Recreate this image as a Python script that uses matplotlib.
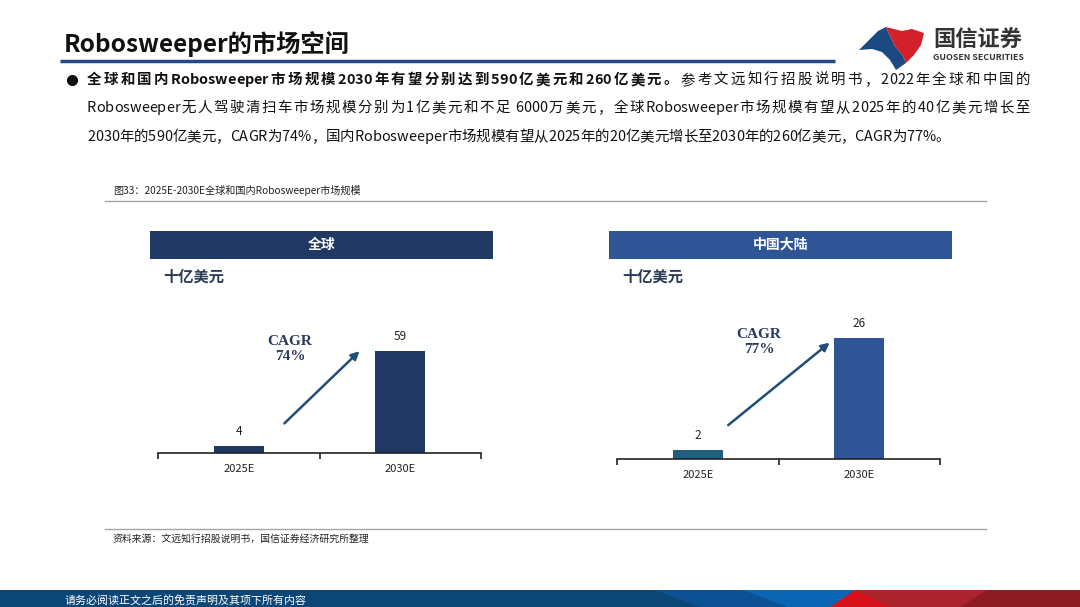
import matplotlib.pyplot as plt
from matplotlib.patches import Rectangle, Polygon

plt.rcParams['font.family'] = ['Noto Sans CJK SC', 'DejaVu Sans']

# data
years = ['2025E', '2030E']
global_vals = [4, 59]
china_vals = [2, 26]
global_cagr = '74%'
china_cagr = '77%'

title = 'Robosweeper的市场空间'
bullet_bold = '全球和国内Robosweeper市场规模2030年有望分别达到590亿美元和260亿美元。'
bullet_rest = '参考文远知行招股说明书，2022年全球和中国的'
line2 = 'Robosweeper无人驾驶清扫车市场规模分别为1亿美元和不足 6000万美元，全球Robosweeper市场规模有望从2025年的40亿美元增长至'
line3 = '2030年的590亿美元，CAGR为74%，国内Robosweeper市场规模有望从2025年的20亿美元增长至2030年的260亿美元，CAGR为77%。'
caption = '图33：2025E-2030E全球和国内Robosweeper市场规模'
source = '资料来源：文远知行招股说明书，国信证券经济研究所整理'
footer = '请务必阅读正文之后的免责声明及其项下所有内容'

W, H = 1080, 607
fig = plt.figure(figsize=(W / 100, H / 100), dpi=100)
bg = fig.add_axes([0, 0, 1, 1])
bg.set_xlim(0, W)
bg.set_ylim(H, 0)
bg.axis('off')
fig.canvas.draw()
r = fig.canvas.get_renderer()


def justified(pieces, x0, x1, y, size):
    # spread the line between x0 and x1, extra room only next to CJK characters
    chars = []
    for txt, wt in pieces:
        for c in txt:
            t = bg.text(0, y, c, fontsize=size, fontweight=wt, va='center', ha='left', color='#111111')
            chars.append((c, t, t.get_window_extent(renderer=r).width))
    total = sum(w for _, _, w in chars)
    slots = [not (chars[i][0].isascii() and chars[i + 1][0].isascii()) for i in range(len(chars) - 1)]
    gap = (x1 - x0 - total) / max(sum(slots), 1)
    x = x0
    for i, (c, t, w) in enumerate(chars):
        t.set_x(x)
        x += w + (gap if i < len(slots) and slots[i] else 0)


# header
bg.text(64, 44, title, fontsize=17.5, fontweight='bold', va='center', ha='left', color='#111111')
bg.plot([60, 835], [60.5, 60.5], color='#244a84', lw=2.5, solid_capstyle='butt')

# logo
bg.add_patch(Polygon([(859, 50), (878, 31), (886, 27), (890, 36), (895, 46), (903, 56),
                      (906, 63), (896, 70), (890, 60), (882, 52), (872, 49)],
                     closed=True, color='#1b4a82', lw=0))
bg.add_patch(Polygon([(886, 27), (902, 31), (912, 29), (924, 33), (921, 45), (914, 55),
                      (906, 63), (903, 56), (895, 46), (890, 36)],
                     closed=True, color='#d3202b', lw=0))
bg.text(933, 40, '国信证券', fontsize=16, fontweight='bold', va='center', ha='left', color='#333333')
bg.text(933, 58, 'GUOSEN SECURITIES', fontsize=6.4, fontweight='bold', va='center', ha='left', color='#333333')

# bullet paragraph
bg.plot(72, 80, 'o', color='#111111', ms=7)
justified([(bullet_bold, 'bold'), (bullet_rest, 'normal')], 87, 1030, 80, 10.4)
justified([(line2, 'normal')], 87, 1030, 108, 10.4)
justified([(line3, 'normal')], 87, 950, 137, 10.4)

# caption and rules
bg.text(113, 190, caption, fontsize=7.3, va='center', ha='left', color='#222222')
bg.plot([105, 986], [200.5, 200.5], color='#a6a6a6', lw=1)
bg.plot([105, 986], [528.5, 528.5], color='#a6a6a6', lw=1)
bg.text(113, 539, source, fontsize=7.1, va='center', ha='left', color='#222222')

# footer band
bg.add_patch(Rectangle((0, 590), W, 17, color='#0c4677', lw=0))
bg.add_patch(Polygon([(655, 590), (700, 607), (1080, 607), (1080, 590)], color='#0b5194', lw=0))
bg.add_patch(Polygon([(743, 590), (788, 607), (1080, 607), (1080, 590)], color='#0a66b5', lw=0))
bg.add_patch(Polygon([(855, 590), (830, 607), (1080, 607), (1080, 590)], color='#d7101a', lw=0))
bg.add_patch(Polygon([(855, 590), (890, 607), (1080, 607), (1080, 590)], color='#ab232d', lw=0))
bg.add_patch(Polygon([(987, 590), (960, 607), (1080, 607), (1080, 590)], color='#8c1c22', lw=0))
bg.text(65, 600, footer, fontsize=7.9, va='center', ha='left', color='white')


def panel(x0, x1, base, top, unit, vals, colors, name, head_color, cagr, arrow, cagr_xy):
    # header box
    bg.add_patch(Rectangle((x0 - 8, 231), 343, 28, color=head_color, lw=0))
    bg.text(x0 - 8 + 171.5, 245, name, fontsize=10, fontweight='bold', color='white',
            ha='center', va='center')
    bg.text(x0 + 5, 277, '十亿美元', fontsize=11, fontweight='bold', color='#2b3a55',
            ha='left', va='center')
    ax = fig.add_axes([x0 / W, 1 - base / H, (x1 - x0) / W, (base - top) / H])
    ax.set_xlim(-0.5, 1.5)
    ax.set_ylim(0, (base - top) / unit)
    ax.bar(range(len(vals)), vals, width=0.31, color=colors)
    for i, v in enumerate(vals):
        ax.text(i, v + 8 / unit, str(v), ha='center', va='bottom', fontsize=8.5, color='#222222')
    for s in ['top', 'right', 'left']:
        ax.spines[s].set_visible(False)
    ax.spines['bottom'].set_color('#222222')
    ax.spines['bottom'].set_linewidth(1.2)
    ax.set_yticks([])
    ax.set_xticks(range(len(vals)))
    ax.set_xticklabels(years, fontsize=8, color='#222222')
    ax.tick_params(axis='x', which='major', length=0, pad=8)
    ax.set_xticks([-0.5, 0.5, 1.5], minor=True)
    ax.tick_params(axis='x', which='minor', length=4, width=1.2, color='#222222', direction='out')
    ax.annotate('', xy=arrow[1], xytext=arrow[0],
                arrowprops=dict(arrowstyle='-|>', color='#1f4e79', lw=1.8, mutation_scale=12))
    ax.text(cagr_xy[0], cagr_xy[1], 'CAGR\n' + cagr, ha='center', va='center', fontsize=11,
            fontweight='bold', color='#2b3a5f', family='Liberation Serif', linespacing=1.2)
    return ax


panel(158, 481, 453, 300, 1.73, global_vals, ['#203864', '#203864'], '全球', '#203864',
      global_cagr, [(0.27, 16), (0.76, 60)], (0.317, 60))
panel(617, 940, 459, 300, 4.65, china_vals, ['#1f5f80', '#2f5597'], '中国大陆', '#2f5597',
      china_cagr, [(0.175, 6.9), (0.83, 25.4)], (0.379, 25.2))

fig.savefig('out.png', dpi=100)
